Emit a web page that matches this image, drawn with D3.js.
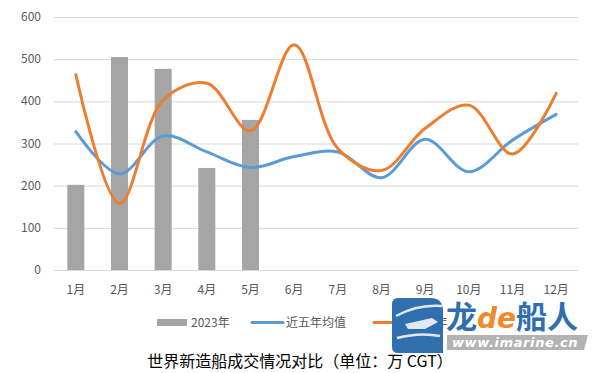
<!DOCTYPE html>
<html>
<head>
<meta charset="utf-8">
<script src="https://cdn.jsdelivr.net/npm/d3@7"></script>
<style>
  body { margin: 0; background: #fff; }
  svg { display: block; font-family: "Noto Sans CJK SC", "Noto Sans", sans-serif; }
  .grid line { stroke: #d9d9d9; stroke-width: 1; }
  .tick-label { fill: #595959; font-size: 12px; }
</style>
</head>
<body>
<svg id="chart" width="609" height="373"></svg>
<script>
const months = ['1月', '2月', '3月', '4月', '5月', '6月', '7月', '8月', '9月', '10月', '11月', '12月'];
const bars2023 = [202, 505, 477, 242, 356];
const avgFiveYears = [328, 228, 318, 280, 243, 269, 280, 219, 310, 233, 308, 369];
const line2024 = [463, 158, 403, 443, 330, 534, 288, 236, 336, 391, 275, 419];
const yTicks = [0, 100, 200, 300, 400, 500, 600];
const seriesNames = ['2023年', '近五年均值', '2024年'];
const title = '世界新造船成交情况对比（单位：万 CGT）';

const svg = d3.select('#chart');
const plotLeft = 54, plotRight = 578, plotTop = 17, plotBottom = 270;

const x = d3.scaleBand().domain(months).range([plotLeft, plotRight]);
const y = d3.scaleLinear().domain([0, 600]).range([plotBottom, plotTop]);

// gridlines
svg.append('g').attr('class', 'grid')
	.selectAll('line').data(yTicks).join('line')
	.attr('x1', plotLeft).attr('x2', plotRight)
	.attr('y1', d => y(d) + 0.5).attr('y2', d => y(d) + 0.5);

// y labels
svg.append('g').selectAll('text').data(yTicks).join('text')
	.attr('class', 'tick-label')
	.attr('x', 41).attr('y', d => y(d) + 4)
	.attr('text-anchor', 'end')
	.text(d => d);

// x labels
svg.append('g').selectAll('text').data(months).join('text')
	.attr('class', 'tick-label')
	.attr('x', d => x(d) + x.bandwidth() / 2).attr('y', 294)
	.attr('text-anchor', 'middle')
	.text(d => d);

// bars
const barWidth = x.bandwidth() * 0.39;
svg.append('g').selectAll('rect').data(bars2023).join('rect')
	.attr('fill', '#a5a5a5')
	.attr('x', (d, i) => x(months[i]) + (x.bandwidth() - barWidth) / 2)
	.attr('width', barWidth)
	.attr('y', d => y(d))
	.attr('height', d => y(0) - y(d));

// smooth lines
const line = d3.line()
	.x((d, i) => x(months[i]) + x.bandwidth() / 2)
	.y(d => y(d))
	.curve(d3.curveCatmullRom.alpha(0.5));

svg.append('path').datum(avgFiveYears)
	.attr('d', line).attr('fill', 'none')
	.attr('stroke', '#5b9bd5').attr('stroke-width', 3).attr('stroke-linecap', 'round');

svg.append('path').datum(line2024)
	.attr('d', line).attr('fill', 'none')
	.attr('stroke', '#ed7d31').attr('stroke-width', 3).attr('stroke-linecap', 'round');

// legend
const legend = svg.append('g').attr('class', 'legend');
legend.append('rect').attr('x', 157).attr('y', 319).attr('width', 30).attr('height', 7).attr('fill', '#a5a5a5');
legend.append('text').attr('class', 'tick-label').attr('x', 191).attr('y', 327).text(seriesNames[0]);
legend.append('line').attr('x1', 252).attr('x2', 283).attr('y1', 322.5).attr('y2', 322.5)
	.attr('stroke', '#5b9bd5').attr('stroke-width', 3).attr('stroke-linecap', 'round');
legend.append('text').attr('class', 'tick-label').attr('x', 286).attr('y', 327).text(seriesNames[1]);
legend.append('line').attr('x1', 374).attr('x2', 405).attr('y1', 322.5).attr('y2', 322.5)
	.attr('stroke', '#ed7d31').attr('stroke-width', 3).attr('stroke-linecap', 'round');
legend.append('text').attr('class', 'tick-label').attr('x', 409).attr('y', 327).text(seriesNames[2]);

// title
svg.append('text')
	.attr('x', 300).attr('y', 367)
	.attr('text-anchor', 'middle')
	.attr('font-size', 16).attr('fill', '#000')
	.text(title);

// watermark
const wm = svg.append('g').attr('class', 'watermark');
wm.append('path')
	.attr('d', 'M398,298 H430 Q443,298 443,311 V353 H398 Q392,353 392,347 V304 Q392,298 398,298 Z')
	.attr('fill', '#2f6fb0');
wm.append('path')
	.attr('d', 'M396,316 Q418,304 442,306 M397,338 Q420,332 440,336')
	.attr('stroke', '#fff').attr('stroke-width', 2.5).attr('fill', 'none').attr('opacity', 0.85);
wm.append('path')
	.attr('d', 'M405,324 L432,318 L438,322 L425,329 L408,329 Z')
	.attr('fill', '#fff').attr('opacity', 0.85);
wm.append('path')
	.attr('d', 'M447,335 H588 L584,350 H447 Z')
	.attr('fill', '#b3b3b3');
wm.append('text')
	.attr('x', 452).attr('y', 347)
	.attr('font-size', 13).attr('font-weight', 'bold').attr('font-style', 'italic')
	.attr('font-family', 'DejaVu Sans')
	.attr('fill', '#fff').attr('letter-spacing', 0.6)
	.text('www.imarine.cn');
const logo = wm.append('text')
	.attr('x', 446).attr('y', 328)
	.attr('font-size', 31).attr('font-weight', 'bold');
logo.append('tspan').attr('fill', '#2f6fb0').text('龙');
logo.append('tspan').attr('fill', '#f08a2c').attr('font-style', 'italic').attr('font-family', 'DejaVu Sans').attr('font-size', 28).text('de');
logo.append('tspan').attr('fill', '#2f6fb0').text('船人');
</script>
</body>
</html>
